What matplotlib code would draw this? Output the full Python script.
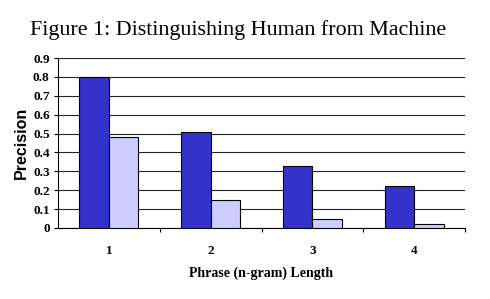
import matplotlib
matplotlib.use("Agg")
import matplotlib.pyplot as plt
import numpy as np

categories = ["1", "2", "3", "4"]
human = [0.80, 0.51, 0.33, 0.22]
machine = [0.48, 0.15, 0.05, 0.02]
yticks = [0, 0.1, 0.2, 0.3, 0.4, 0.5, 0.6, 0.7, 0.8, 0.9]
ytick_labels = ["0", "0.1", "0.2", "0.3", "0.4", "0.5", "0.6", "0.7", "0.8", "0.9"]

fig = plt.figure(figsize=(4.9, 2.99), dpi=100)
ax = fig.add_axes([0.1184, 0.2375, 0.8306, 0.5685])

x = np.arange(len(categories))
w = 0.29
ax.bar(x - w / 2, human, w, color="#3333CC", edgecolor="black", linewidth=0.8, zorder=3)
ax.bar(x + w / 2, machine, w, color="#CCCCFF", edgecolor="black", linewidth=0.8, zorder=3)

ax.set_xlim(-0.5, 3.5)
ax.set_ylim(0, 0.9)
ax.set_yticks(yticks)
ax.set_yticklabels(ytick_labels, fontfamily="Liberation Serif", fontweight="bold", fontsize=9.5)
ax.set_xticks(x)
ax.set_xticklabels(categories, fontfamily="Liberation Serif", fontweight="bold", fontsize=9.5)
ax.tick_params(axis="x", which="major", length=0, pad=12)
ax.set_xticks([0.5, 1.5, 2.5, 3.5], minor=True)
ax.tick_params(axis="x", which="minor", length=3, width=0.8, direction="out")
ax.tick_params(axis="y", length=3, width=0.8, direction="out", pad=3)

ax.yaxis.grid(True, color="#222222", linewidth=0.8, zorder=0)
for s in ["top", "right"]:
    ax.spines[s].set_visible(False)
ax.spines["left"].set_linewidth(0.8)
ax.spines["bottom"].set_linewidth(0.8)

ax.set_ylabel("Precision", fontfamily="Liberation Sans", fontweight="bold", fontsize=11.5, labelpad=3)
ax.set_xlabel("Phrase (n-gram) Length", fontfamily="Liberation Serif", fontweight="bold", fontsize=10, labelpad=7)

fig.text(0.485, 0.898, "Figure 1: Distinguishing Human from Machine", fontfamily="Liberation Serif",
         fontsize=15.8, ha="center", va="center")

fig.savefig("out.png", dpi=100)
